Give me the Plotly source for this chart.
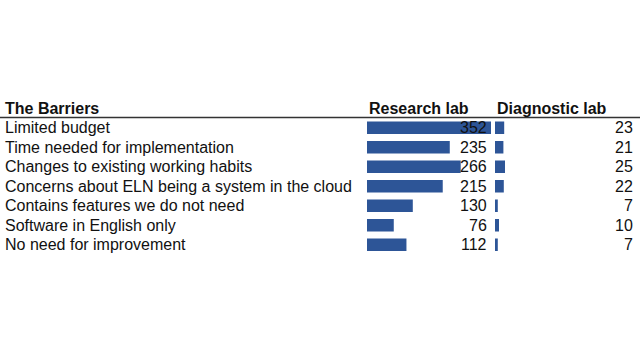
import plotly.graph_objects as go

barriers = [
    "Limited budget",
    "Time needed for implementation",
    "Changes to existing working habits",
    "Concerns about ELN being a system in the cloud",
    "Contains features we do not need",
    "Software in English only",
    "No need for improvement",
]
research_lab = [352, 235, 266, 215, 130, 76, 112]
diagnostic_lab = [23, 21, 25, 22, 7, 10, 7]
headers = ["The Barriers", "Research lab", "Diagnostic lab"]

W, H = 640, 356
BAR_COLOR = "#2d5597"
FONT = "Liberation Sans, Arial, sans-serif"
FS = 16

y0 = 1 - 254.5 / H
y1 = 1 - 118 / H

fig = go.Figure()
fig.add_trace(go.Bar(
    x=research_lab, y=barriers, orientation="h",
    marker=dict(color=BAR_COLOR, line=dict(width=0)),
    width=0.65, xaxis="x", yaxis="y", hoverinfo="x+y",
))
fig.add_trace(go.Bar(
    x=diagnostic_lab, y=barriers, orientation="h",
    marker=dict(color=BAR_COLOR, line=dict(width=0)),
    width=0.65, xaxis="x2", yaxis="y2", hoverinfo="x+y",
))

annotations = []
for name, r, d in zip(barriers, research_lab, diagnostic_lab):
    annotations.append(dict(text=name, x=3 / W, xref="paper", y=name, yref="y",
                            xanchor="left", yanchor="middle", showarrow=False,
                            font=dict(size=FS, color="#111", family=FONT)))
    annotations.append(dict(text=str(r), x=489 / W, xref="paper", y=name, yref="y",
                            xanchor="right", yanchor="middle", showarrow=False,
                            font=dict(size=FS, color="#111", family=FONT)))
    annotations.append(dict(text=str(d), x=635 / W, xref="paper", y=name, yref="y",
                            xanchor="right", yanchor="middle", showarrow=False,
                            font=dict(size=FS, color="#111", family=FONT)))

for htext, hx in zip(headers, [3, 367, 495]):
    annotations.append(dict(text="<b>%s</b>" % htext, x=hx / W, xref="paper",
                            y=1 - 108 / H, yref="paper", xanchor="left", yanchor="middle",
                            showarrow=False, font=dict(size=FS, color="#111", family=FONT)))

fig.update_layout(
    width=W, height=H,
    margin=dict(l=0, r=0, t=0, b=0),
    paper_bgcolor="white", plot_bgcolor="white",
    showlegend=False,
    bargap=0.35,
    xaxis=dict(domain=[367 / W, 491 / W], range=[0, 352], visible=False, fixedrange=True),
    xaxis2=dict(domain=[495 / W, 635 / W], range=[0, 350], visible=False, fixedrange=True),
    yaxis=dict(domain=[y0, y1], anchor="x", visible=False, autorange=False,
               range=[6.5, -0.5], type="category", categoryorder="array", categoryarray=barriers),
    yaxis2=dict(domain=[y0, y1], anchor="x2", visible=False, autorange=False, matches="y",
                range=[6.5, -0.5], type="category", categoryorder="array", categoryarray=barriers),
    annotations=annotations,
    shapes=[dict(type="line", xref="paper", yref="paper", x0=0, x1=1,
                 y0=1 - 117.5 / H, y1=1 - 117.5 / H, line=dict(color="#333", width=1.5))],
)

fig.write_html("out.html", config={"displayModeBar": False},
               post_script="document.body.style.margin='0px';")
